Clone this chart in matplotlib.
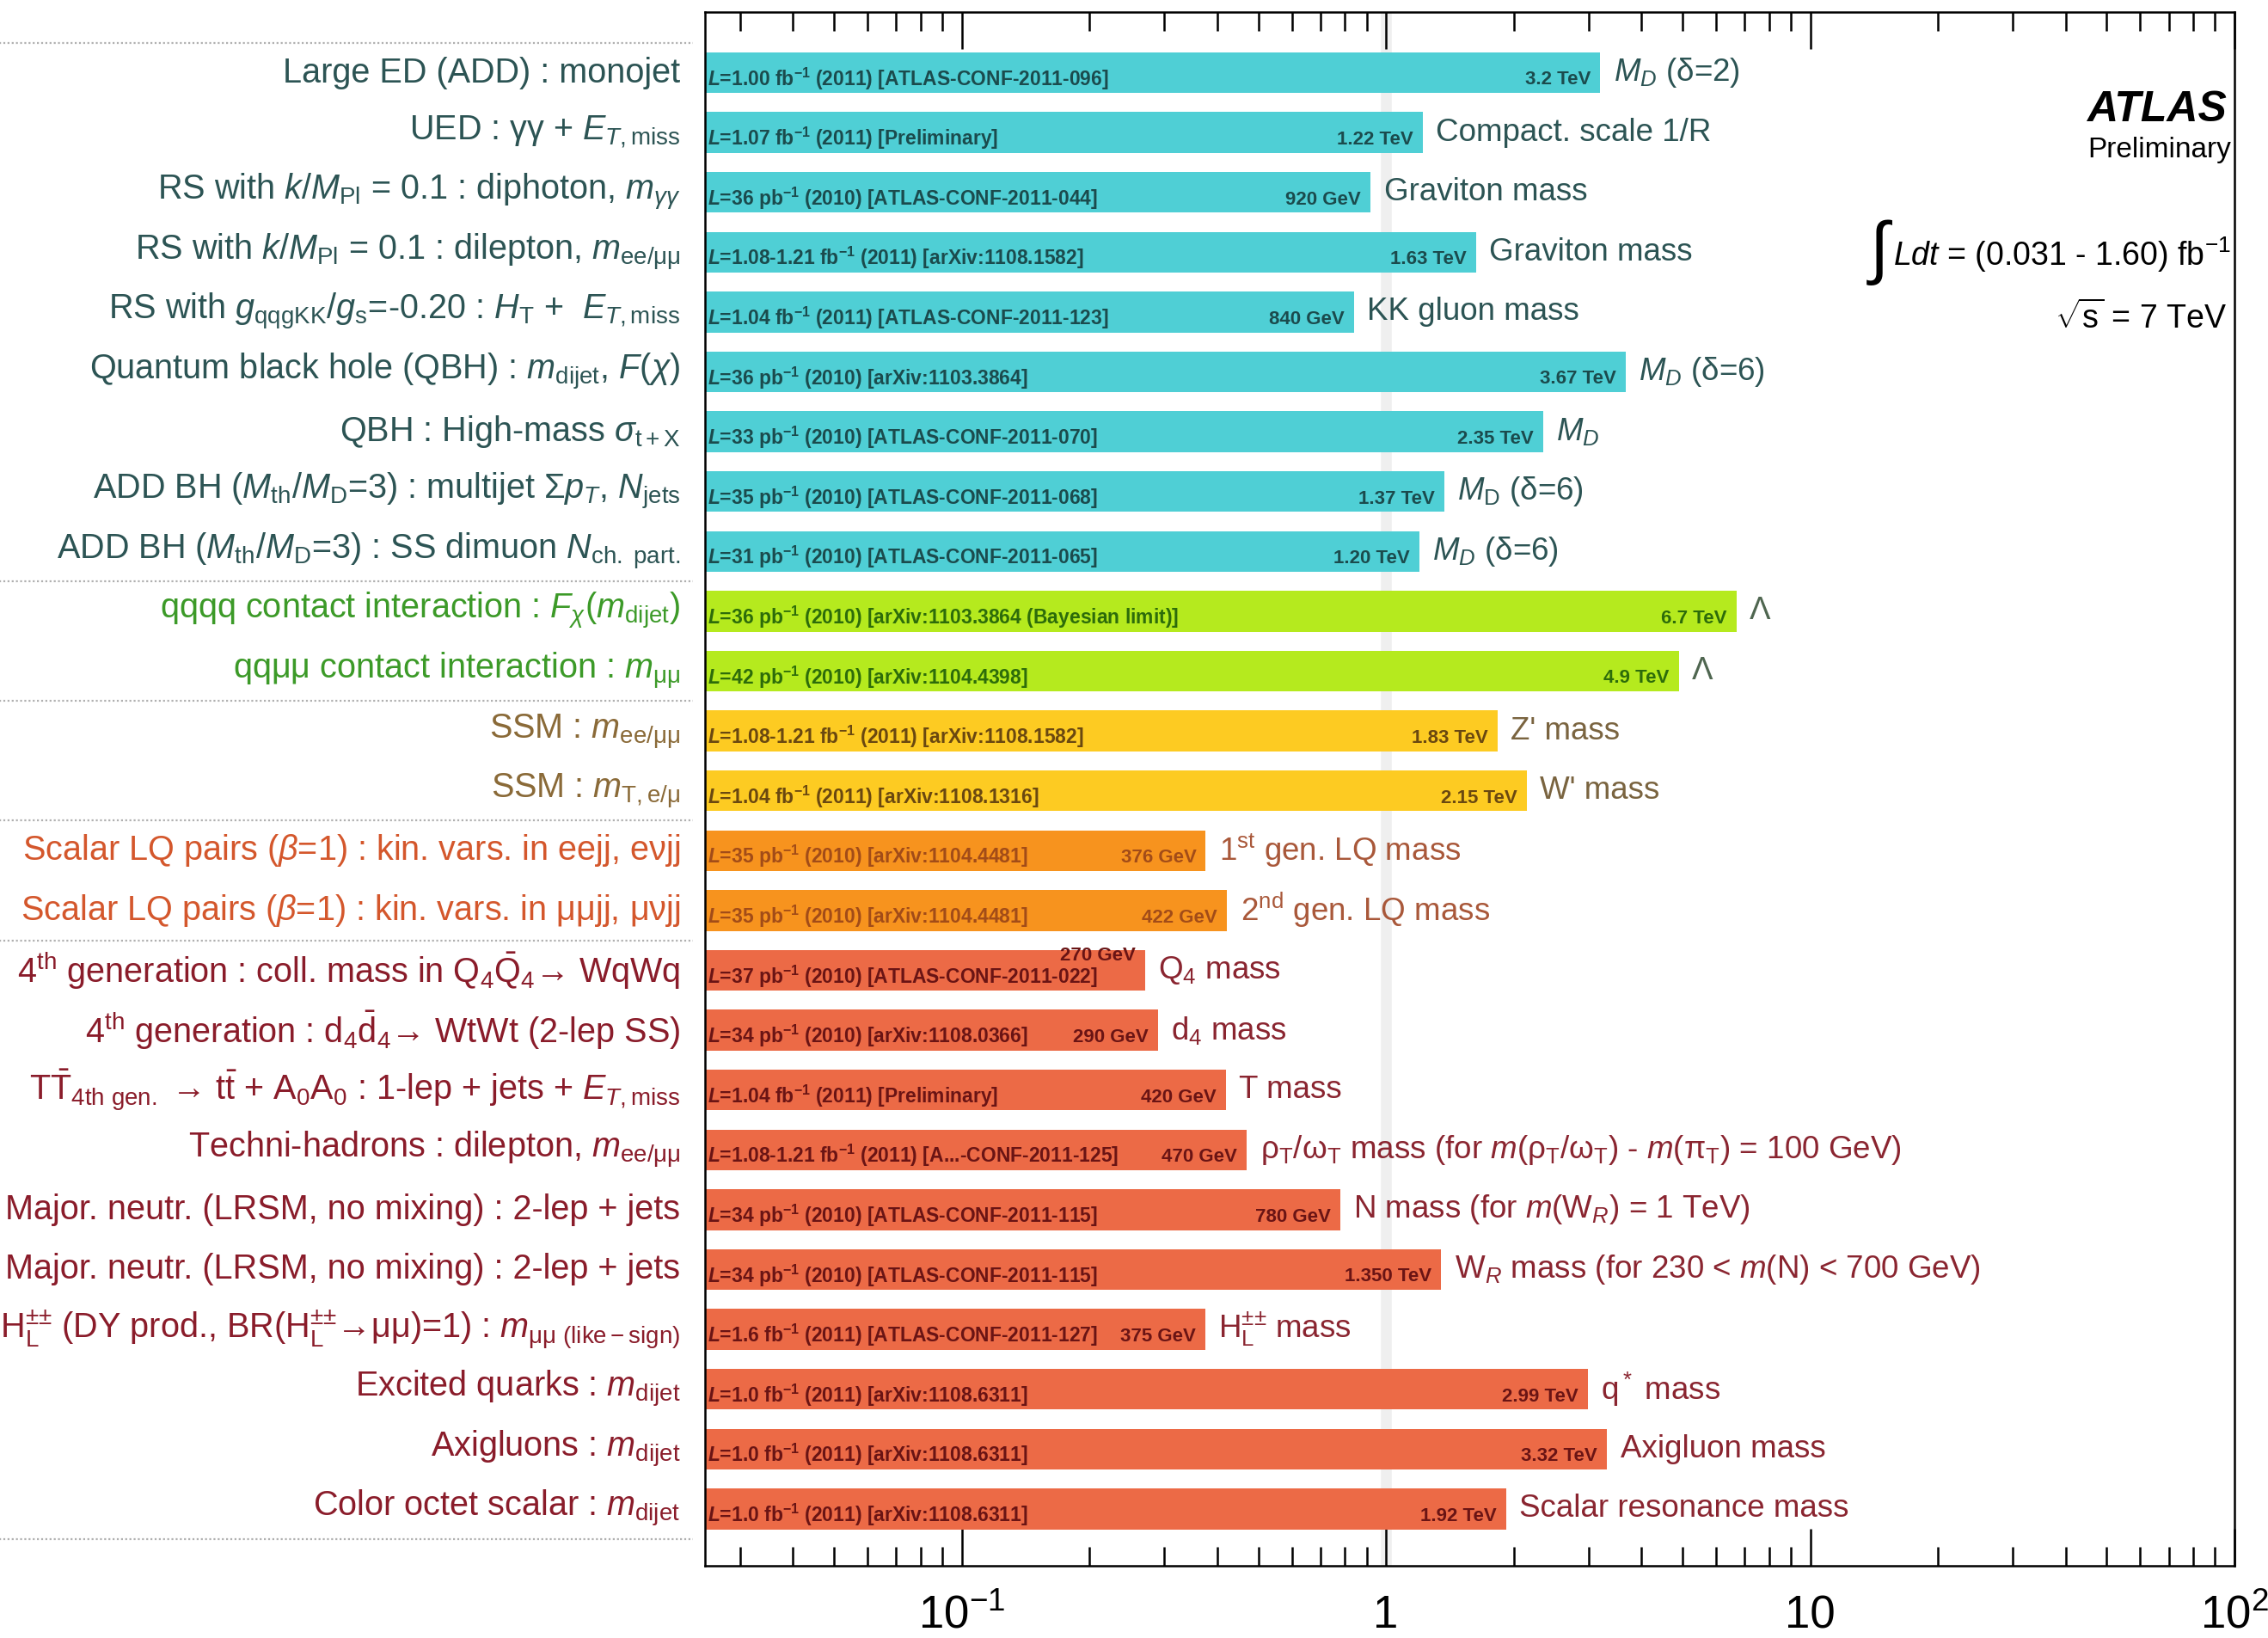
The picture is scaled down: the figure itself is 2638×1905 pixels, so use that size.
import matplotlib
matplotlib.use("Agg")
import matplotlib.pyplot as plt
from matplotlib.transforms import blended_transform_factory
from matplotlib.ticker import LogLocator, NullFormatter
import numpy as np

plt.rcParams.update({
    "font.family": ["Liberation Sans", "DejaVu Sans"],
    "mathtext.fontset": "custom",
    "mathtext.rm": "Liberation Sans",
    "mathtext.it": "Liberation Sans:italic",
    "mathtext.bf": "Liberation Sans:bold",
    "mathtext.bfit": "Liberation Sans:italic:bold",
    "mathtext.sf": "Liberation Sans",
})

# ---------------------------------------------------------------- data
channels = [
    "Large ED (ADD) : monojet",
    r"UED : γγ + $E_{T,\mathrm{miss}}$",
    r"RS with $k/M_{\mathrm{Pl}}$ = 0.1 : diphoton, $m_{γγ}$",
    r"RS with $k/M_{\mathrm{Pl}}$ = 0.1 : dilepton, $m_{\mathrm{ee/μμ}}$",
    r"RS with $g_{\mathrm{qqgKK}}/g_{\mathrm{s}}$=-0.20 : $H_{\mathrm{T}}$ +  $E_{T,\mathrm{miss}}$",
    r"Quantum black hole (QBH) : $m_{\mathrm{dijet}}$, $F(χ)$",
    r"QBH : High-mass $σ_{\mathrm{t+X}}$",
    r"ADD BH ($M_{\mathrm{th}}/M_{\mathrm{D}}$=3) : multijet Σ$p_T$, $N_{\mathrm{jets}}$",
    r"ADD BH ($M_{\mathrm{th}}/M_{\mathrm{D}}$=3) : SS dimuon $N_{\mathrm{ch.\ part.}}$",
    r"qqqq contact interaction : $F_χ(m_{\mathrm{dijet}})$",
    r"qqμμ contact interaction : $m_{\mathrm{μμ}}$",
    r"SSM : $m_{\mathrm{ee/μμ}}$",
    r"SSM : $m_{\mathrm{T,e/μ}}$",
    r"Scalar LQ pairs ($β$=1) : kin. vars. in eejj, eνjj",
    r"Scalar LQ pairs ($β$=1) : kin. vars. in μμjj, μνjj",
    r"4$^{\mathrm{th}}$ generation : coll. mass in Q$_4\bar{\mathrm{Q}}_4$→ WqWq",
    r"4$^{\mathrm{th}}$ generation : d$_4\bar{\mathrm{d}}_4$→ WtWt (2-lep SS)",
    r"T$\bar{\mathrm{T}}_{\mathrm{4th\ gen.}}$ → t$\bar{\mathrm{t}}$ + A$_0$A$_0$ : 1-lep + jets + $E_{T,\mathrm{miss}}$",
    r"Techni-hadrons : dilepton, $m_{\mathrm{ee/μμ}}$",
    "Major. neutr. (LRSM, no mixing) : 2-lep + jets",
    "Major. neutr. (LRSM, no mixing) : 2-lep + jets",
    r"H$_\mathrm{L}^{±±}$ (DY prod., BR(H$_\mathrm{L}^{±±}$→μμ)=1) : $m_{\mathrm{μμ\ (like-sign)}}$",
    r"Excited quarks : $m_{\mathrm{dijet}}$",
    r"Axigluons : $m_{\mathrm{dijet}}$",
    r"Color octet scalar : $m_{\mathrm{dijet}}$",
]

# excluded mass / scale limits in TeV
limits_tev = [3.2, 1.22, 0.92, 1.63, 0.84, 3.67, 2.35, 1.37, 1.20,
              6.7, 4.9,
              1.83, 2.15,
              0.376, 0.422,
              0.270, 0.290, 0.420, 0.470, 0.780, 1.350, 0.375, 2.99, 3.32, 1.92]

limit_labels = ["3.2 TeV", "1.22 TeV", "920 GeV", "1.63 TeV", "840 GeV", "3.67 TeV",
                "2.35 TeV", "1.37 TeV", "1.20 TeV", "6.7 TeV", "4.9 TeV", "1.83 TeV",
                "2.15 TeV", "376 GeV", "422 GeV", "270 GeV", "290 GeV", "420 GeV",
                "470 GeV", "780 GeV", "1.350 TeV", "375 GeV", "2.99 TeV", "3.32 TeV",
                "1.92 TeV"]

L_ = r"$\mathbfit{L}$"
FB = r" fb$^{\mathbf{-1}}$"
PB = r" pb$^{\mathbf{-1}}$"
references = [
    L_ + "=1.00" + FB + " (2011) [ATLAS-CONF-2011-096]",
    L_ + "=1.07" + FB + " (2011) [Preliminary]",
    L_ + "=36" + PB + " (2010) [ATLAS-CONF-2011-044]",
    L_ + "=1.08-1.21" + FB + " (2011) [arXiv:1108.1582]",
    L_ + "=1.04" + FB + " (2011) [ATLAS-CONF-2011-123]",
    L_ + "=36" + PB + " (2010) [arXiv:1103.3864]",
    L_ + "=33" + PB + " (2010) [ATLAS-CONF-2011-070]",
    L_ + "=35" + PB + " (2010) [ATLAS-CONF-2011-068]",
    L_ + "=31" + PB + " (2010) [ATLAS-CONF-2011-065]",
    L_ + "=36" + PB + " (2010) [arXiv:1103.3864 (Bayesian limit)]",
    L_ + "=42" + PB + " (2010) [arXiv:1104.4398]",
    L_ + "=1.08-1.21" + FB + " (2011) [arXiv:1108.1582]",
    L_ + "=1.04" + FB + " (2011) [arXiv:1108.1316]",
    L_ + "=35" + PB + " (2010) [arXiv:1104.4481]",
    L_ + "=35" + PB + " (2010) [arXiv:1104.4481]",
    L_ + "=37" + PB + " (2010) [ATLAS-CONF-2011-022]",
    L_ + "=34" + PB + " (2010) [arXiv:1108.0366]",
    L_ + "=1.04" + FB + " (2011) [Preliminary]",
    L_ + "=1.08-1.21" + FB + " (2011) [A...-CONF-2011-125]",
    L_ + "=34" + PB + " (2010) [ATLAS-CONF-2011-115]",
    L_ + "=34" + PB + " (2010) [ATLAS-CONF-2011-115]",
    L_ + "=1.6" + FB + " (2011) [ATLAS-CONF-2011-127]",
    L_ + "=1.0" + FB + " (2011) [arXiv:1108.6311]",
    L_ + "=1.0" + FB + " (2011) [arXiv:1108.6311]",
    L_ + "=1.0" + FB + " (2011) [arXiv:1108.6311]",
]

quantities = [
    r"$M_D$ (δ=2)", "Compact. scale 1/R", "Graviton mass", "Graviton mass",
    "KK gluon mass", r"$M_D$ (δ=6)", r"$M_D$", r"$M_{\mathrm{D}}$ (δ=6)", r"$M_D$ (δ=6)",
    "Λ", "Λ",
    "Z' mass", "W' mass",
    r"1$^{\mathrm{st}}$ gen. LQ mass", r"2$^{\mathrm{nd}}$ gen. LQ mass",
    r"Q$_4$ mass", r"d$_4$ mass", "T mass",
    r"ρ$_\mathrm{T}$/ω$_\mathrm{T}$ mass (for $m$(ρ$_\mathrm{T}$/ω$_\mathrm{T}$) - $m$(π$_\mathrm{T}$) = 100 GeV)",
    r"N mass (for $m$(W$_R$) = 1 TeV)",
    r"W$_R$ mass (for 230 < $m$(N) < 700 GeV)",
    r"H$_\mathrm{L}^{±±}$ mass", r"q$^*$ mass", "Axigluon mass", "Scalar resonance mass",
]

# physics group of each row: extra dims, contact int., W'/Z', LQ, others
group = [0] * 9 + [1] * 2 + [2] * 2 + [3] * 2 + [4] * 10
separators = [-0.5, 8.5, 10.5, 12.5, 14.5, 24.5]

# ---------------------------------------------------------------- styles
bar_colors = ["#4fcfd5", "#b5ea1e", "#fdcb22", "#f7931e", "#ec6a46"]
inbar_colors = ["#1b4b4d", "#2d6c0a", "#6a4810", "#a24c18", "#6a1414"]
left_colors = ["#2c5454", "#3c9a28", "#8a6a38", "#d4572c", "#8a1c2a"]
right_colors = ["#2c5454", "#4f6650", "#7a6440", "#a9583a", "#8a2530"]
value_dy = {15: 18}  # points; the Q4 limit sits above its reference text

fig = plt.figure(figsize=(26.38, 19.05), dpi=100)
ax = fig.add_axes([0.3108, 0.0441, 0.6744, 0.9488])
ax.set_xscale("log")
ax.set_xlim(0.0248, 100)
ax.set_ylim(24.95, -1.02)

ypos = np.arange(len(limits_tev))
vals = np.array(limits_tev)
x0 = 1e-4
ax.axvline(1, color="#efefef", lw=9, zorder=0)
ax.barh(ypos, vals - x0, left=x0, height=0.68,
        color=[bar_colors[g] for g in group], zorder=2)

blend = blended_transform_factory(ax.transAxes, ax.transData)
for i, g in enumerate(group):
    ax.text(-0.016, i, channels[i], transform=blend, ha="right", va="center",
            fontsize=28.5, color=left_colors[g])
    ax.text(0.0015, i + 0.1, references[i], transform=blend, ha="left", va="center",
            fontsize=16.5, fontweight="bold", color=inbar_colors[g], zorder=3)
    ax.annotate(limit_labels[i], xy=(vals[i], i), xytext=(-8, -6 + value_dy.get(i, 0)),
                textcoords="offset points", ha="right", va="center",
                fontsize=16, fontweight="bold", color=inbar_colors[g], zorder=3)
    ax.annotate(quantities[i], xy=(vals[i], i), xytext=(11, 0),
                textcoords="offset points", ha="left", va="center",
                fontsize=26.5, color=right_colors[g])

for yv in separators:
    ax.plot([-0.462, -0.008], [yv, yv], transform=blend, clip_on=False,
            color="#b0b0b0", ls=(0, (1, 1.2)), lw=1.6)

ax.set_xticks([0.1, 1, 10, 100])
ax.set_xticklabels([r"$10^{-1}$", "1", "10", r"$10^{2}$"])
ax.xaxis.set_minor_locator(LogLocator(base=10, subs=np.arange(2, 10), numticks=30))
ax.xaxis.set_minor_formatter(NullFormatter())
ax.set_yticks([])
ax.tick_params(axis="x", which="both", direction="in", top=True, bottom=True,
               labeltop=False, width=1.8)
ax.tick_params(axis="x", which="major", length=31, labelsize=38, pad=24)
ax.tick_params(axis="x", which="minor", length=16)
for sp in ax.spines.values():
    sp.set_linewidth(1.8)

fig.text(0.9818, 0.9330, "ATLAS", ha="right", va="center", fontsize=36,
         fontweight="bold", fontstyle="italic")
fig.text(0.9837, 0.9085, "Preliminary", ha="right", va="center", fontsize=24)
lumi = fig.text(0.9837, 0.8446, r"$Ldt$ = (0.031 - 1.60) fb$^{-1}$", ha="right",
                va="center", fontsize=27)
ax.annotate("∫", xy=(0, 0.5), xycoords=lumi, xytext=(-4, 2), textcoords="offset points",
            ha="right", va="center", fontsize=58, annotation_clip=False)
fig.text(0.9818, 0.8058, r"$\sqrt{\mathrm{s}}$ = 7 TeV", ha="right", va="center", fontsize=27)

fig.savefig("out.png", dpi=100)
